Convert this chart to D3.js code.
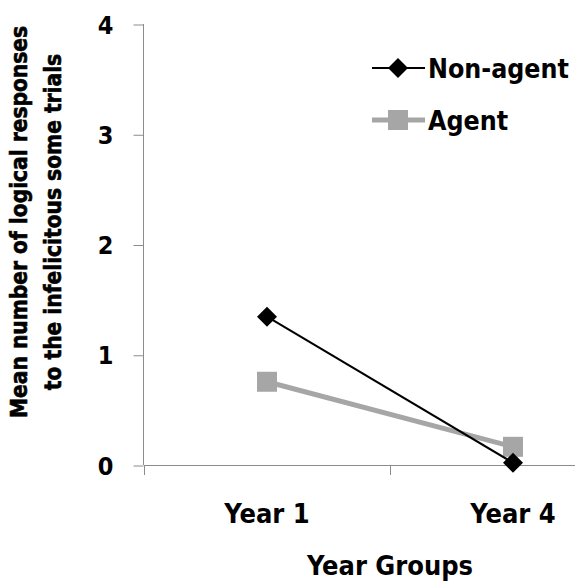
<!DOCTYPE html>
<html><head><meta charset="utf-8">
<script src="https://cdn.jsdelivr.net/npm/d3@7"></script>
<style>
html,body{margin:0;padding:0;background:#fff;}
svg{display:block;}
</style></head>
<body>
<script>
const categories = ["Year 1", "Year 4"];
const seriesNames = ["Non-agent", "Agent"];
const nonAgent = [1.345, 0.02];
const agent = [0.755, 0.165];
const yTicks = [0, 1, 2, 3, 4];
const yTitleLines = ["Mean number of logical responses", "to the infelicitous some trials"];
const xTitle = "Year Groups";

const W = 575, H = 585;
const svg = d3.select("body").append("svg").attr("width", W).attr("height", H);

const condFont = "'DejaVu Sans Condensed', 'DejaVu Sans', sans-serif";

const x = d3.scaleBand().domain(categories).range([144, 636]);
const y = d3.scaleLinear().domain([0, 4]).range([465, 24]);
const axisColor = "#8c8c8c";

// Y axis
const yAxis = svg.append("g").attr("transform", "translate(143.5,0)")
  .call(d3.axisLeft(y).tickValues(yTicks).tickSize(10).tickPadding(20).tickFormat(d3.format("d")));
yAxis.attr("font-size", null).attr("font-family", null);
yAxis.select(".domain").attr("stroke", axisColor).attr("d", `M0,${y(4)}V${y(0)}`);
yAxis.selectAll(".tick line").attr("stroke", axisColor).attr("transform", "translate(0,0.5)");
yAxis.selectAll(".tick text").style("font-family", condFont).style("font-weight", "bold")
  .style("font-size", "25px").attr("fill", "#000").attr("dy", "0.36em");

// X axis
const xAxis = svg.append("g").attr("transform", "translate(0,465.5)")
  .call(d3.axisBottom(x).tickSize(0).tickPadding(38));
xAxis.attr("font-size", null).attr("font-family", null);
xAxis.select(".domain").attr("stroke", axisColor).attr("d", `M144,0H636`);
xAxis.selectAll(".tick text").style("font-family", condFont).style("font-weight", "bold")
  .style("font-size", "27px").attr("fill", "#000");
// category boundary ticks
const bounds = [x.range()[0], ...categories.map(c => x(c) + x.bandwidth())];
svg.append("g").selectAll("line").data(bounds).join("line")
  .attr("x1", d => d + 0.5).attr("x2", d => d + 0.5)
  .attr("y1", 465).attr("y2", 475).attr("stroke", axisColor);

// axis titles
const yt = svg.append("text")
  .attr("transform", "translate(0,222) rotate(-90)")
  .attr("text-anchor", "middle")
  .style("font-family", condFont).style("font-weight", "bold").style("font-size", "22.5px")
  .attr("fill", "#000").attr("stroke", "#000").attr("stroke-width", 0.6);
yTitleLines.forEach((t, i) => {
  yt.append("tspan").attr("x", 0).attr("y", 27 + i * 34).text(t);
});
svg.append("text").attr("x", (x.range()[0] + x.range()[1]) / 2).attr("y", 575)
  .attr("text-anchor", "middle")
  .style("font-family", condFont).style("font-weight", "bold").style("font-size", "27px")
  .attr("fill", "#000").text(xTitle);

const cx = c => x(c) + x.bandwidth() / 2;
const line = d3.line().x((d, i) => cx(categories[i])).y(d => y(d));

const diamond = "M0,-10L10,0L0,10L-10,0Z";
const square = "M-10,-10H10V10H-10Z";

const series = [
  {name: seriesNames[1], values: agent, color: "#a6a6a6", width: 5, marker: square},
  {name: seriesNames[0], values: nonAgent, color: "#000", width: 2, marker: diamond}
];

series.forEach(s => {
  svg.append("path").datum(s.values).attr("d", line)
    .attr("fill", "none").attr("stroke", s.color).attr("stroke-width", s.width);
  svg.append("g").selectAll("path").data(s.values).join("path")
    .attr("transform", (d, i) => `translate(${cx(categories[i])},${y(d)})`)
    .attr("d", s.marker).attr("fill", s.color);
});

// legend
const legendItems = [series[1], series[0]];
const lg = svg.append("g");
legendItems.forEach((s, i) => {
  const yy = 68 + i * 52;
  lg.append("line").attr("x1", 372).attr("x2", 425).attr("y1", yy).attr("y2", yy)
    .attr("stroke", s.color).attr("stroke-width", s.width);
  lg.append("path").attr("transform", `translate(398,${yy})`).attr("d", s.marker).attr("fill", s.color);
  lg.append("text").attr("x", 428).attr("y", yy + 9.5)
    .style("font-family", condFont).style("font-weight", "bold").style("font-size", "26.5px")
    .attr("fill", "#000").text(s.name);
});
</script>
</body></html>
